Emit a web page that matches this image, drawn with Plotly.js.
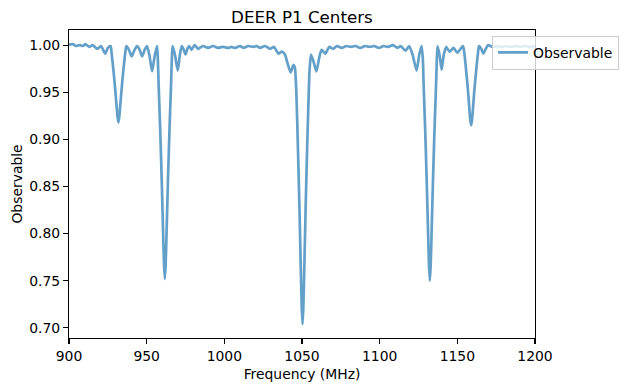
<!DOCTYPE html>
<html>
<head>
<meta charset="utf-8">
<script src="https://cdn.plot.ly/plotly-3.0.1.min.js"></script>
<style>html,body{margin:0;padding:0;background:#fff;}#chart{width:631px;height:391px;}</style>
</head>
<body>
<div id="chart"></div>
<script>
const chartTitle = "DEER P1 Centers";
const xLabel = "Frequency (MHz)";
const yLabel = "Observable";
const seriesName = "Observable";
const xTicks = [900, 950, 1000, 1050, 1100, 1150, 1200];
const yTicks = [0.70, 0.75, 0.80, 0.85, 0.90, 0.95, 1.00];

const frequency = [
  900.0, 902.4, 904.6, 906.7, 909.0, 910.5, 913.1, 915.2, 918.2, 920.6,
  923.3, 925.0, 926.8, 927.3, 927.8, 928.8, 929.8, 930.8, 931.3, 931.8,
  932.3, 932.8, 933.8, 934.8, 935.8, 936.3, 936.9, 938.6, 940.4, 942.2,
  943.9, 945.5, 947.1, 948.7, 950.2, 951.8, 953.5, 955.1, 956.7, 957.2,
  957.7, 958.7, 959.7, 960.7, 961.2, 961.7, 962.2, 962.7, 963.7, 964.7,
  965.7, 966.2, 966.7, 968.3, 970.0, 971.4, 972.6, 973.9, 975.0, 976.2,
  977.4, 978.8, 980.9, 983.0, 986.3, 989.5, 992.7, 995.9, 999.1, 1002.4,
  1004.6, 1007.0, 1010.1, 1012.2, 1015.4, 1018.6, 1020.8, 1023.0, 1026.2, 1029.4,
  1032.0, 1034.8, 1037.0, 1039.0, 1040.8, 1042.7, 1044.5, 1045.4, 1046.35, 1047.35,
  1048.35, 1049.35, 1049.85, 1050.35, 1050.85, 1051.35, 1052.35, 1053.35, 1054.35, 1054.85,
  1055.8, 1057.5, 1059.3, 1061.0, 1062.6, 1065.0, 1067.5, 1070.0, 1072.5, 1075.5,
  1078.5, 1081.5, 1084.5, 1087.5, 1090.5, 1093.5, 1096.5, 1099.5, 1102.5, 1105.5,
  1108.5, 1111.4, 1113.5, 1116.6, 1119.0, 1121.3, 1123.8, 1125.5, 1127.0, 1127.8,
  1128.3, 1129.3, 1130.3, 1131.3, 1131.8, 1132.3, 1132.8, 1133.3, 1134.3, 1135.3,
  1136.3, 1136.8, 1137.3, 1138.6, 1139.9, 1141.3, 1142.8, 1145.0, 1147.5, 1150.0,
  1153.6, 1154.4, 1154.9, 1155.9, 1156.9, 1157.9, 1158.4, 1158.9, 1159.4, 1159.9,
  1160.9, 1161.9, 1162.9, 1163.4, 1163.9, 1165.4, 1166.7, 1168.3, 1169.9, 1172.5,
  1175.5, 1178.5, 1181.5, 1184.5, 1187.5, 1190.5, 1193.5, 1196.5, 1200.0
];

const observable = [
  1.0005, 1.001, 0.999, 1.000, 0.999, 1.001, 0.998, 1.000, 0.996, 0.999,
  0.991, 0.997, 0.999, 0.993, 0.986, 0.970, 0.952, 0.932, 0.923, 0.918,
  0.923, 0.932, 0.952, 0.970, 0.986, 0.993, 0.999, 0.995, 0.988, 0.995,
  0.999, 0.995, 0.988, 0.995, 0.999, 0.989, 0.972, 0.988, 0.999, 0.985,
  0.958, 0.911, 0.856, 0.794, 0.767, 0.752, 0.767, 0.794, 0.856, 0.911,
  0.958, 0.985, 0.999, 0.989, 0.973, 0.990, 0.999, 0.995, 0.990, 0.996,
  0.999, 0.995, 1.000, 0.996, 0.999, 0.997, 0.999, 0.997, 0.998, 0.997,
  0.998, 0.997, 0.999, 0.997, 0.999, 0.998, 0.999, 0.997, 0.999, 0.996,
  0.998, 0.991, 0.993, 0.990, 0.980, 0.971, 0.979, 0.976, 0.950, 0.893,
  0.828, 0.754, 0.722, 0.704, 0.722, 0.754, 0.828, 0.893, 0.950, 0.973,
  0.990, 0.982, 0.972, 0.986, 0.995, 0.991, 0.998, 0.996, 0.999, 0.997,
  0.999, 0.998, 0.999, 0.997, 0.999, 0.998, 0.999, 0.997, 0.999, 0.998,
  1.000, 0.997, 0.999, 0.994, 0.999, 0.989, 0.973, 0.990, 0.999, 0.985,
  0.958, 0.910, 0.855, 0.793, 0.765, 0.750, 0.765, 0.793, 0.855, 0.910,
  0.958, 0.985, 0.999, 0.989, 0.974, 0.990, 0.998, 0.993, 0.997, 0.992,
  0.999, 0.993, 0.986, 0.969, 0.951, 0.929, 0.920, 0.915, 0.920, 0.929,
  0.951, 0.969, 0.986, 0.993, 0.999, 0.996, 0.991, 0.996, 1.000, 0.998,
  0.999, 0.998, 0.999, 0.998, 0.999, 0.998, 0.999, 0.998, 0.999
];

const font = "DejaVu Sans, sans-serif";

const trace = {
  x: frequency,
  y: observable,
  type: "scatter",
  mode: "lines",
  name: seriesName,
  line: {color: "rgba(31,119,180,0.7)", width: 2.7, shape: "spline", smoothing: 0.6},
  showlegend: true
};

const axisCommon = {
  showline: true, linecolor: "#000", linewidth: 1.1, mirror: true,
  ticks: "outside", ticklen: 5, tickwidth: 1.1, tickcolor: "#000",
  showgrid: false, zeroline: false,
  tickfont: {family: font, size: 13.9, color: "#000"}
};

const layout = {
  width: 631, height: 391,
  margin: {l: 69, r: 96, t: 30, b: 53, autoexpand: false},
  paper_bgcolor: "#fff", plot_bgcolor: "#fff",
  font: {family: font, color: "#000"},
  title: {text: chartTitle, font: {family: font, size: 16.7, color: "#000"},
          x: 0.4785, xanchor: "center", y: 0.957, yanchor: "middle"},
  xaxis: Object.assign({}, axisCommon, {
    range: [900, 1200], tickvals: xTicks, ticktext: xTicks.map(String),
    title: {text: xLabel, font: {family: font, size: 13.9, color: "#000"}, standoff: 6}
  }),
  yaxis: Object.assign({}, axisCommon, {
    range: [0.6892, 1.0160], tickvals: yTicks, ticktext: yTicks.map(v => v.toFixed(2)),
    title: {text: yLabel, font: {family: font, size: 13.9, color: "#000"}, standoff: 3}
  }),
  showlegend: true,
  legend: {
    x: 0.9077, y: 0.981, xanchor: "left", yanchor: "top",
    bgcolor: "rgba(255,255,255,0.8)", bordercolor: "#cccccc", borderwidth: 1,
    font: {family: font, size: 13.9, color: "#000"}
  }
};

Plotly.newPlot("chart", [trace], layout, {displayModeBar: false, staticPlot: true});
</script>
</body>
</html>
